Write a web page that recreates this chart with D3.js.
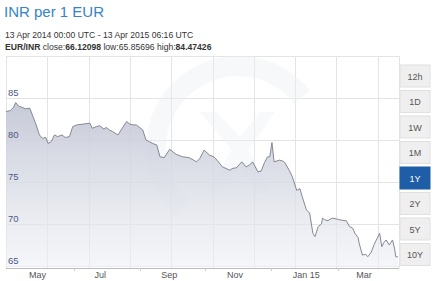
<!DOCTYPE html>
<html>
<head>
<script src="https://d3js.org/d3.v7.min.js"></script>
<style>
body { margin: 0; background: #fff; }
svg { display: block; font-family: "Liberation Sans", Arial, sans-serif; }
</style>
</head>
<body>
<div id="canvas"></div>
<script>
var width = 440, height = 281;

// chart data
var dates = ["2014-04-13","2014-04-17","2014-04-20","2014-04-22","2014-04-25","2014-04-28","2014-05-01","2014-05-05",
  "2014-05-08","2014-05-11","2014-05-14","2014-05-17","2014-05-20","2014-05-22","2014-05-25","2014-05-28","2014-05-31",
  "2014-06-04","2014-06-07","2014-06-11","2014-06-14","2014-06-18","2014-06-24","2014-06-30","2014-07-02","2014-07-06",
  "2014-07-09","2014-07-13","2014-07-15","2014-07-18","2014-07-21","2014-07-26","2014-07-30","2014-08-03","2014-08-06",
  "2014-08-09","2014-08-12","2014-08-18","2014-08-21","2014-08-24","2014-08-27","2014-08-31","2014-09-03","2014-09-07",
  "2014-09-12","2014-09-15","2014-09-18","2014-09-24","2014-09-30","2014-10-07","2014-10-10","2014-10-14","2014-10-19",
  "2014-10-23","2014-10-26","2014-10-31","2014-11-07","2014-11-09","2014-11-13","2014-11-18","2014-11-22","2014-11-25",
  "2014-11-28","2014-12-03","2014-12-06","2014-12-09","2014-12-12","2014-12-14","2014-12-16","2014-12-18","2014-12-23",
  "2014-12-26","2014-12-28","2015-01-01","2015-01-04","2015-01-08","2015-01-11","2015-01-13","2015-01-15","2015-01-17",
  "2015-01-20","2015-01-23","2015-01-25","2015-01-28","2015-01-31","2015-02-01","2015-02-03","2015-02-06","2015-02-10",
  "2015-02-14","2015-02-17","2015-02-21","2015-02-23","2015-02-26","2015-03-01","2015-03-03","2015-03-06","2015-03-07",
  "2015-03-10","2015-03-13","2015-03-15","2015-03-18","2015-03-19","2015-03-21","2015-03-23","2015-03-26","2015-03-28",
  "2015-03-30","2015-04-01","2015-04-04","2015-04-07","2015-04-09","2015-04-10","2015-04-12"];
var rates = [83.4,83.5,83.9,84.45,84.0,83.9,83.7,83.8,
  82.8,81.8,80.6,80.2,80.3,79.6,79.8,80.6,80.4,
  80.6,80.3,80.4,81.6,81.8,81.9,82.0,81.4,81.6,
  81.7,81.3,81.5,81.2,81.0,80.6,81.4,82.2,81.9,
  81.8,81.8,81.2,80.0,79.8,79.6,79.4,78.0,77.9,
  78.9,78.6,78.3,78.0,77.9,77.4,77.8,78.8,78.2,
  78.0,77.6,76.8,76.4,76.6,76.7,77.4,76.8,77.0,
  77.4,76.2,76.3,77.3,78.0,78.0,79.7,77.4,77.6,
  77.5,77.3,76.4,75.6,74.0,74.2,73.3,72.5,71.7,
  71.3,68.9,68.5,69.7,70.0,70.7,70.5,70.4,70.7,
  70.6,70.5,70.4,70.4,69.7,69.5,68.9,68.4,67.7,
  66.3,66.4,66.1,66.6,66.9,67.6,68.1,68.9,67.3,
  67.8,68.1,67.5,68.1,67.0,66.1,66.1];
var yTicks = [65, 70, 75, 80, 85, 90];
var monthTicks = ["2014-05-01","2014-07-01","2014-09-01","2014-11-01","2015-01-01","2015-03-01"];
var monthLabels = ["May","Jul","Sep","Nov","Jan 15","Mar"];
var minorTicks = ["2014-06-15","2014-08-15","2014-10-15","2014-12-15","2015-02-15"];
var ranges = ["12h","1D","1W","1M","1Y","2Y","5Y","10Y"];
var activeRange = "1Y";

var parse = d3.timeParse("%Y-%m-%d");
var data = dates.map(function(d, i) { return { date: parse(d), rate: rates[i] }; });

var plotLeft = 6, plotRight = 399, plotTop = 56, plotBottom = 266;

var svg = d3.select("#canvas").append("svg")
    .attr("width", width).attr("height", height);

// header texts
svg.append("text").attr("x", 4).attr("y", 17)
    .attr("font-size", 15).attr("fill", "#3584c4").text("INR per 1 EUR");
svg.append("text").attr("x", 5).attr("y", 38)
    .attr("font-size", 8.6).attr("fill", "#333")
    .text("13 Apr 2014 00:00 UTC - 13 Apr 2015 06:16 UTC");
var info = svg.append("text").attr("x", 5).attr("y", 50)
    .attr("font-size", 8.6).attr("fill", "#333");
info.append("tspan").attr("font-weight", "bold").text("EUR/INR ");
info.append("tspan").text("close:");
info.append("tspan").attr("font-weight", "bold").text("66.12098 ");
info.append("tspan").text("low:65.85696 ");
info.append("tspan").text("high:");
info.append("tspan").attr("font-weight", "bold").text("84.47426");

var x = d3.scaleTime()
    .domain([parse("2014-04-13"), parse("2015-04-13")])
    .range([plotLeft, plotRight]);
var y = d3.scaleLinear().domain([65, 90]).range([plotBottom, plotTop]);

// grid
var grid = svg.append("g").attr("stroke", "#e4e4e4").attr("stroke-width", 1);
yTicks.forEach(function(t) {
    grid.append("line").attr("x1", plotLeft).attr("x2", plotRight)
        .attr("y1", Math.round(y(t)) + 0.5).attr("y2", Math.round(y(t)) + 0.5);
});
d3.range(plotLeft, plotRight, 41.3).concat([plotRight]).forEach(function(gx) {
    grid.append("line").attr("x1", Math.round(gx) + 0.5).attr("x2", Math.round(gx) + 0.5)
        .attr("y1", plotTop).attr("y2", plotBottom + 2);
});

// faint watermark
var wm = svg.append("g").attr("opacity", 0.4);
wm.append("path")
    .attr("transform", "translate(238,148)")
    .attr("d", d3.arc().innerRadius(72).outerRadius(92).startAngle(-2.4).endAngle(0.9)())
    .attr("fill", "#eceef3");
wm.append("path")
    .attr("d", "M200 112 L232 150 L205 195 L220 195 L240 165 L258 195 L273 195 L248 150 L275 112 L260 112 L240 137 L216 112 Z")
    .attr("fill", "#eff1f5");

// area gradient
var defs = svg.append("defs");
var grad = defs.append("linearGradient").attr("id", "fillGrad")
    .attr("x1", 0).attr("y1", 0).attr("x2", 0).attr("y2", 1);
grad.append("stop").attr("offset", "0%").attr("stop-color", "#c3c6d5").attr("stop-opacity", 0.95);
grad.append("stop").attr("offset", "100%").attr("stop-color", "#eef0f5").attr("stop-opacity", 0.6);

svg.append("path").datum(data)
    .attr("fill", "url(#fillGrad)")
    .attr("d", d3.area().x(function(d) { return x(d.date); })
        .y0(plotBottom + 1).y1(function(d) { return y(d.rate); }));
svg.append("path").datum(data)
    .attr("fill", "none").attr("stroke", "#858795").attr("stroke-width", 1)
    .attr("stroke-linejoin", "round")
    .attr("d", d3.line().x(function(d) { return x(d.date); })
        .y(function(d) { return y(d.rate); }));

// y labels
svg.append("g").selectAll("text").data(yTicks.slice(0, 5)).enter().append("text")
    .attr("x", 8).attr("y", function(d) { return y(d) - 2; })
    .attr("font-size", 9.5).attr("fill", "#4c5a82")
    .text(function(d) { return d; });

// x axis
var xAxis = d3.axisBottom(x)
    .tickValues(monthTicks.map(parse))
    .tickSize(0)
    .tickFormat(function(d, i) { return monthLabels[i]; });
var gx = svg.append("g").attr("transform", "translate(0," + (plotBottom + 2) + ")").call(xAxis);
gx.select(".domain").attr("stroke", "#bbb").attr("d", "M" + plotLeft + ",0.5H" + plotRight);
gx.selectAll("text").attr("text-anchor", "start").attr("dx", 3).attr("dy", 0)
    .attr("y", 10).attr("font-size", 9).attr("fill", "#555")
    .attr("font-family", "Liberation Sans, Arial, sans-serif");
gx.selectAll(".minor").data(minorTicks.map(parse)).enter().append("line")
    .attr("class", "minor").attr("stroke", "#ccc")
    .attr("x1", function(d) { return Math.round(x(d)) + 0.5; })
    .attr("x2", function(d) { return Math.round(x(d)) + 0.5; })
    .attr("y1", 0).attr("y2", 3);

// range buttons
var btn = svg.append("g").selectAll("g").data(ranges).enter().append("g")
    .attr("transform", function(d, i) { return "translate(400," + (65 + i * 25.5) + ")"; });
btn.append("rect").attr("width", 30).attr("height", 22)
    .attr("fill", function(d) { return d === activeRange ? "#1e5ea6" : "#efefef"; })
    .attr("stroke", function(d) { return d === activeRange ? "#1e5ea6" : "#e0e0e0"; });
btn.append("text").attr("x", 15).attr("y", 14.5).attr("text-anchor", "middle")
    .attr("font-size", 9).attr("fill", function(d) { return d === activeRange ? "#fff" : "#555"; })
    .text(function(d) { return d; });
</script>
</body>
</html>
